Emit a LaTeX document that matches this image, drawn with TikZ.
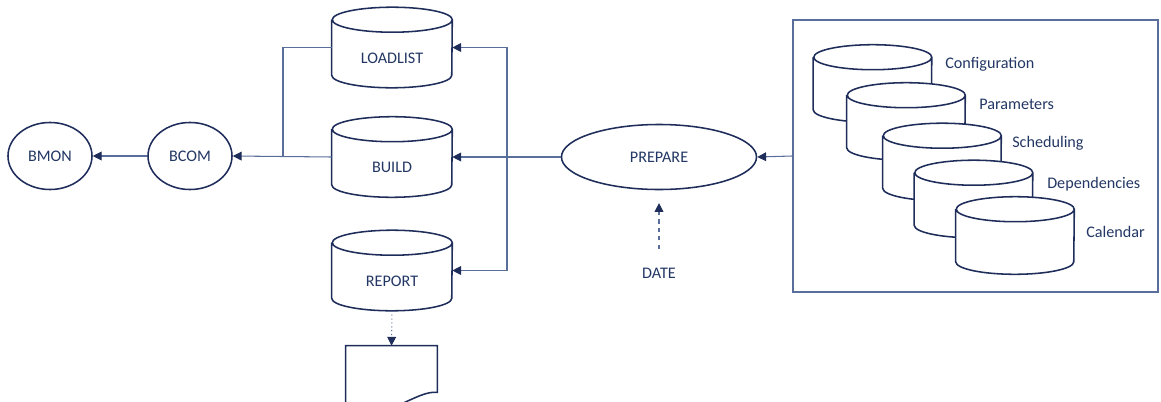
\documentclass[tikz,border=0pt]{standalone}
\usepackage{fontspec}
\setmainfont{Carlito}
\usetikzlibrary{positioning,shapes.geometric,arrows.meta}
\definecolor{navy}{RGB}{31,45,90}
\definecolor{wire}{RGB}{90,110,155}
\definecolor{ink}{RGB}{35,55,100}

% cylinder outline round a named box: #1 node, #2 half width
\newcommand\dbcyl[2]{%
  \draw[shp] ([yshift=-3.125mm]#1.north west) -- ([yshift=3.125mm]#1.south west)
    arc[start angle=180, end angle=360, x radius=#2, y radius=3.125mm]
    -- ([yshift=-3.125mm]#1.north east)
    arc[start angle=0, end angle=360, x radius=#2, y radius=3.125mm];}

\begin{document}
\begin{tikzpicture}[
  x=0.025cm, y=-0.025cm,
  font=\fontsize{11.5}{13}\selectfont, text=ink,
  shp/.style={draw=navy, line width=1.1pt, fill=white},
  proc/.style={shp, ellipse, inner sep=0pt, minimum width=21mm, minimum height=16.75mm},
  db/.style={rectangle, inner sep=0pt, minimum width=30mm, minimum height=20mm},
  cfgdb/.style={db, minimum width=29.5mm, minimum height=19.25mm},
  side/.style={anchor=west, inner sep=0pt},
  ln/.style={wire, line width=0.75pt},
  arr/.style={ln, -{Triangle[length=2.2mm, width=2.2mm, color=navy, fill=navy]}}
]
\useasboundingbox (0,0) rectangle (1161,401);

% left side: monitor and command
\node[proc] (bmon) at (50,156) {BMON};
\node[proc] (bcom) at (190,156) {BCOM};

% generated files
\node[db] (load)   at (392,47.5)  {};
\node[db] (build)  at (392,157)   {};
\node[db] (report) at (392,270.5) {};
\dbcyl{load}{15mm}
\dbcyl{build}{15mm}
\dbcyl{report}{15mm}
\node at ([yshift=-2.6mm]load.center)   {LOADLIST};
\node at ([yshift=-2.6mm]build.center)  {BUILD};
\node at ([yshift=-2.6mm]report.center) {REPORT};

\node[minimum width=22.75mm, minimum height=18.5mm, inner sep=0pt] (doc) at (391.5,383) {};
\draw[shp] (doc.south west) -- (doc.north west) -- (doc.north east)
  -- ([yshift=7mm]doc.south east)
  .. controls ([xshift=-5.5mm,yshift=7.5mm]doc.south east) and ([xshift=11mm]doc.south west)
  .. ([yshift=2mm]doc.south west) -- cycle;

% preparation step
\node[proc, minimum width=48.75mm, minimum height=16.25mm] (prep) at (659,157) {PREPARE};
\node (date) at (659,273) {DATE};

% input tables
\node[draw=wire, line width=1pt, minimum width=91.25mm, minimum height=68mm] (cfgbox) at (975.5,156) {};
\node[cfgdb] (cfg) at (872.5,83.5)  {};
\node[cfgdb] (par) at (906,121.5)   {};
\node[cfgdb] (sch) at (942,162)     {};
\node[cfgdb] (dep) at (973.5,199)   {};
\node[cfgdb] (cal) at (1015,235.5)  {};
\dbcyl{cfg}{14.75mm}
\dbcyl{par}{14.75mm}
\dbcyl{sch}{14.75mm}
\dbcyl{dep}{14.75mm}
\dbcyl{cal}{14.75mm}
\node[side] (cfgl) at (945,64)   {Configuration};
\node[side] (parl) at (979,104)  {Parameters};
\node[side] (schl) at (1012,143) {Scheduling};
\node[side] (depl) at (1047,184) {Dependencies};
\node[side] (call) at (1086,232) {Calendar};

\coordinate (jl) at (283,157);
\coordinate (jr) at (507,157);

\draw[arr] (cfgbox.west) -- (prep.east);
\draw[ln]  (prep.west) -- (jr);
\draw[arr] (jr) -- (build.east);
\draw[arr] (jr) |- (load.east);
\draw[arr] (jr) |- (report.east);
\draw[arr] (build.west) -- (bcom.east);
\draw[ln]  (load.west) -| (jl);
\draw[arr] (bcom.west) -- (bmon.east);
\draw[arr, dotted] (report.south) -- (doc.north);
\draw[arr, dashed, shorten <=3.5mm, shorten >=3.2mm] (date.north) -- (prep.south);
\end{tikzpicture}
\end{document}
